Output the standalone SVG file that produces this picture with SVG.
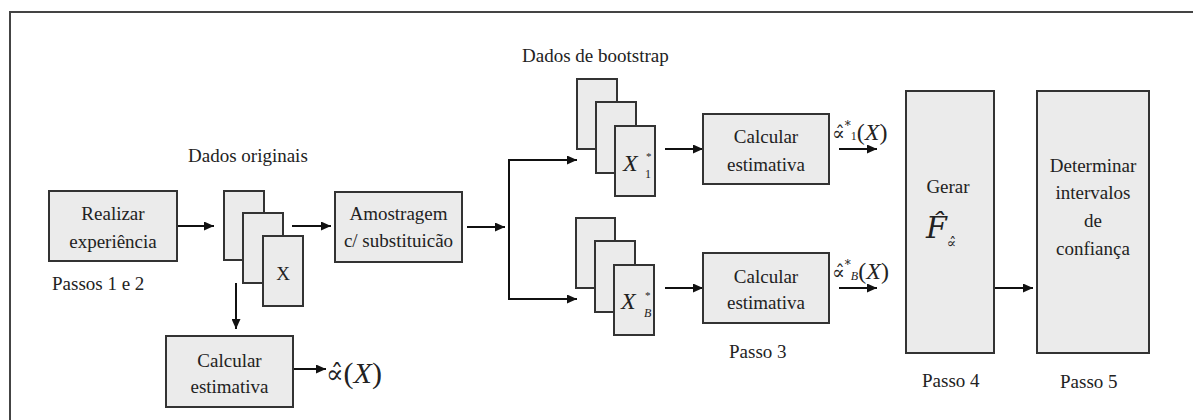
<svg xmlns="http://www.w3.org/2000/svg" width="1193" height="420" viewBox="0 0 1193 420">
<style>
.box{fill:#ebebeb;stroke:#333;stroke-width:2}
.ln{stroke:#111;stroke-width:2;fill:none}
.t{font-family:"Liberation Serif","DejaVu Serif",serif;font-size:19px;fill:#222}
.c{text-anchor:middle}
.m{font-family:"DejaVu Serif","Liberation Serif",serif;fill:#222}
.i{font-style:italic}
</style>
<defs>
<marker id="ah" markerUnits="userSpaceOnUse" markerWidth="11" markerHeight="9" refX="10" refY="4.5" orient="auto">
<path d="M0,0 L10,4.5 L0,9 z" fill="#111"/>
</marker>
</defs>
<rect width="1193" height="420" fill="#fff"/>
<path d="M10,420 V12 H1193" fill="none" stroke="#444" stroke-width="2"/>

<g id="connectors">
<line class="ln" x1="177" y1="226" x2="214" y2="226" marker-end="url(#ah)"/>
<line class="ln" x1="292" y1="226" x2="331" y2="226" marker-end="url(#ah)"/>
<line class="ln" x1="236" y1="283" x2="236" y2="329" marker-end="url(#ah)"/>
<line class="ln" x1="293" y1="369" x2="326" y2="369" marker-end="url(#ah)"/>
<line class="ln" x1="467" y1="227" x2="505" y2="227" marker-end="url(#ah)"/>
<path class="ln" d="M577,160 H509 V299 H577"/>
<line class="ln" x1="509" y1="160" x2="577" y2="160" marker-end="url(#ah)"/>
<line class="ln" x1="509" y1="299" x2="577" y2="299" marker-end="url(#ah)"/>
<line class="ln" x1="665" y1="149" x2="703" y2="149" marker-end="url(#ah)"/>
<line class="ln" x1="665" y1="288" x2="703" y2="288" marker-end="url(#ah)"/>
<line class="ln" x1="839" y1="149" x2="877" y2="149" marker-end="url(#ah)"/>
<line class="ln" x1="839" y1="288" x2="877" y2="288" marker-end="url(#ah)"/>
<line class="ln" x1="994" y1="288" x2="1033" y2="288" marker-end="url(#ah)"/>
</g>

<g id="realizar">
<rect class="box" x="49" y="191" width="128" height="70"/>
<text class="t c" x="113" y="220">Realizar</text>
<text class="t c" x="113" y="248">experiência</text>
<text class="t" x="52" y="290">Passos 1 e 2</text>
</g>

<g id="dados-originais">
<text class="t" x="188" y="162">Dados originais</text>
<rect class="box" x="224" y="191" width="40" height="69"/>
<rect class="box" x="243" y="213" width="40" height="70"/>
<rect class="box" x="263" y="236" width="40" height="70"/>
<text class="t c" x="283" y="280">X</text>
</g>

<g id="calcular0">
<rect class="box" x="166" y="336" width="127" height="71"/>
<text class="t c" x="229.5" y="367">Calcular</text>
<text class="t c" x="229.5" y="393">estimativa</text>
<text class="m" x="326" y="383" style="font-size:26px">∝̂<tspan style="font-family:'Liberation Serif';font-size:30px">(<tspan class="i">X</tspan>)</tspan></text>
</g>

<g id="amostragem">
<rect class="box" x="335" y="192" width="127" height="70"/>
<text class="t c" x="398.5" y="220">Amostragem</text>
<text class="t c" x="398.5" y="247">c/ substituicão</text>
</g>

<g id="bootstrap-1">
<text class="t" x="522" y="62">Dados de bootstrap</text>
<rect class="box" x="577" y="79" width="40" height="70"/>
<rect class="box" x="596" y="102" width="40" height="71"/>
<rect class="box" x="615" y="126" width="40" height="70"/>
<text class="t i" x="623" y="171" style="font-size:24px">X<tspan x="646" y="160" style="font-size:11px;font-style:normal">*</tspan><tspan x="645" y="178" style="font-size:12px;font-style:normal">1</tspan></text>
</g>

<g id="bootstrap-B">
<rect class="box" x="576" y="218" width="39" height="70"/>
<rect class="box" x="595" y="241" width="40" height="71"/>
<rect class="box" x="614" y="265" width="40" height="70"/>
<text class="t i" x="621" y="309" style="font-size:24px">X<tspan x="645" y="299" style="font-size:11px;font-style:normal">*</tspan><tspan x="644" y="317" style="font-size:12px">B</tspan></text>
</g>

<g id="calcular1">
<rect class="box" x="703" y="114" width="126" height="70"/>
<text class="t c" x="766" y="143">Calcular</text>
<text class="t c" x="766" y="171">estimativa</text>
<text class="m" x="832" y="140" style="font-size:19px">∝̂<tspan dy="-10" style="font-size:12px">*</tspan><tspan dy="10" style="font-size:12px;font-family:'Liberation Serif'">1</tspan><tspan style="font-family:'Liberation Serif';font-size:24px">(<tspan class="i">X</tspan>)</tspan></text>
</g>

<g id="calcularB">
<rect class="box" x="703" y="253" width="126" height="70"/>
<text class="t c" x="766" y="283">Calcular</text>
<text class="t c" x="766" y="309">estimativa</text>
<text class="t" x="729" y="358">Passo 3</text>
<text class="m" x="832" y="279" style="font-size:19px">∝̂<tspan dy="-10" style="font-size:12px">*</tspan><tspan dy="11" class="i" style="font-size:12px;font-family:'Liberation Serif'">B</tspan><tspan dy="-1" style="font-family:'Liberation Serif';font-size:24px">(<tspan class="i">X</tspan>)</tspan></text>
</g>

<g id="gerar">
<rect class="box" x="906" y="91" width="88" height="262"/>
<text class="t c" x="948" y="193">Gerar</text>
<text class="m" x="926" y="238" style="font-size:30px"><tspan class="i">F̂</tspan><tspan dy="10" style="font-size:14px">∝̂</tspan></text>
<text class="t" x="922" y="387">Passo 4</text>
</g>

<g id="determinar">
<rect class="box" x="1037" y="91" width="112" height="262"/>
<text class="t c" x="1093" y="172">Determinar</text>
<text class="t c" x="1093" y="199">intervalos</text>
<text class="t c" x="1093" y="227">de</text>
<text class="t c" x="1093" y="255">confiança</text>
<text class="t" x="1060" y="388">Passo 5</text>
</g>
</svg>
